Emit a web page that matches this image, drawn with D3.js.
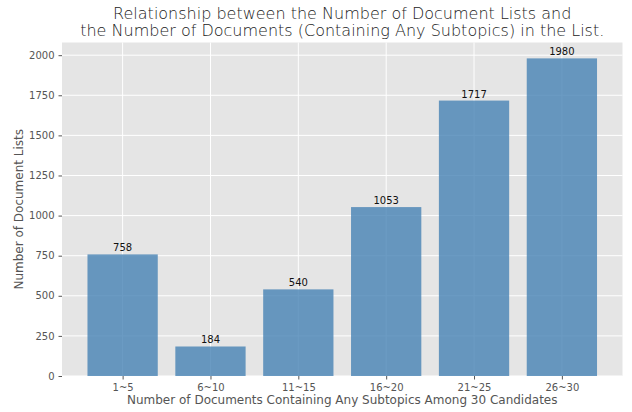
<!DOCTYPE html>
<html>
<head>
<meta charset="utf-8">
<script src="https://cdn.jsdelivr.net/npm/d3@7"></script>
<style>
  body { margin: 0; background: #fff; }
  text { font-family: "DejaVu Sans", sans-serif; }
</style>
</head>
<body>
<script>
// Données
const categories = ['1~5', '6~10', '11~15', '16~20', '21~25', '26~30']
const counts = [758, 184, 540, 1053, 1717, 1980]
const yTicks = [0, 250, 500, 750, 1000, 1250, 1500, 1750, 2000]

const width = 632, height = 412
const margin = { left: 62, right: 9.5, top: 42.5, bottom: 36 }
const plotW = width - margin.left - margin.right
const plotH = height - margin.top - margin.bottom

const svg = d3.select('body')
  .append('svg')
  .attr('width', width)
  .attr('height', height)

// Échelles (marges à la matplotlib)
const pad = (categories.length - 0.2) * 0.05
const x = d3.scaleLinear()
  .domain([-0.4 - pad, categories.length - 0.6 + pad])
  .range([0, plotW])
const y = d3.scaleLinear()
  .domain([0, d3.max(counts) * 1.05])
  .range([plotH, 0])

const g = svg.append('g')
  .attr('transform', `translate(${margin.left},${margin.top})`)

// Fond gris
g.append('rect')
  .attr('width', plotW)
  .attr('height', plotH)
  .attr('fill', '#e5e5e5')

// Grille
g.selectAll('.hgrid')
  .data(yTicks)
  .enter()
  .append('line')
    .attr('x1', 0)
    .attr('x2', plotW)
    .attr('y1', d => y(d))
    .attr('y2', d => y(d))
    .attr('stroke', '#fff')
    .attr('stroke-width', 1)

g.selectAll('.vgrid')
  .data(categories)
  .enter()
  .append('line')
    .attr('x1', (d, i) => x(i))
    .attr('x2', (d, i) => x(i))
    .attr('y1', 0)
    .attr('y2', plotH)
    .attr('stroke', '#fff')
    .attr('stroke-width', 1)

// Barres
const barW = x(0.8) - x(0)
g.selectAll('.bar')
  .data(counts)
  .enter()
  .append('rect')
    .attr('x', (d, i) => x(i) - barW / 2)
    .attr('y', d => y(d))
    .attr('width', barW)
    .attr('height', d => plotH - y(d))
    .attr('fill', 'steelblue')
    .attr('fill-opacity', 0.8)

// Étiquettes des barres
g.selectAll('.label')
  .data(counts)
  .enter()
  .append('text')
    .text(d => d)
    .attr('x', (d, i) => x(i))
    .attr('y', d => y(d) - 3)
    .attr('text-anchor', 'middle')
    .attr('font-size', 10)
    .attr('fill', '#111')

// Axes
const xAxis = g.append('g')
  .attr('transform', `translate(0,${plotH})`)
  .call(d3.axisBottom(x)
    .tickValues(d3.range(categories.length))
    .tickFormat(i => categories[i])
    .tickSize(3.5)
    .tickPadding(4))

const yAxis = g.append('g')
  .call(d3.axisLeft(y)
    .tickValues(yTicks)
    .tickFormat(d3.format('d'))
    .tickSize(3.5)
    .tickPadding(4))

for (const a of [xAxis, yAxis]) {
  a.select('.domain').remove()
  a.selectAll('.tick line').attr('stroke', '#555')
  a.selectAll('.tick text')
    .attr('fill', '#555')
    .attr('font-size', 10)
    .attr('font-family', '"DejaVu Sans", sans-serif')
}

// Titres des axes
svg.append('text')
  .text('Number of Documents Containing Any Subtopics Among 30 Candidates')
  .attr('x', margin.left + plotW / 2)
  .attr('y', 404)
  .attr('text-anchor', 'middle')
  .attr('font-size', 12)
  .attr('fill', '#555')

svg.append('text')
  .text('Number of Document Lists')
  .attr('transform', `translate(23,${margin.top + plotH / 2}) rotate(-90)`)
  .attr('text-anchor', 'middle')
  .attr('font-size', 12)
  .attr('fill', '#555')

// Titre
const titleLines = [
  'Relationship between the Number of Document Lists and',
  'the Number of Documents (Containing Any Subtopics) in the List.'
]
svg.selectAll('.title')
  .data(titleLines)
  .enter()
  .append('text')
    .text(d => d)
    .attr('x', margin.left + plotW / 2)
    .attr('y', (d, i) => 18.5 + i * 17.5)
    .attr('text-anchor', 'middle')
    .attr('font-size', 16)
    .attr('font-weight', 300)
    .attr('fill', '#222')
</script>
</body>
</html>
